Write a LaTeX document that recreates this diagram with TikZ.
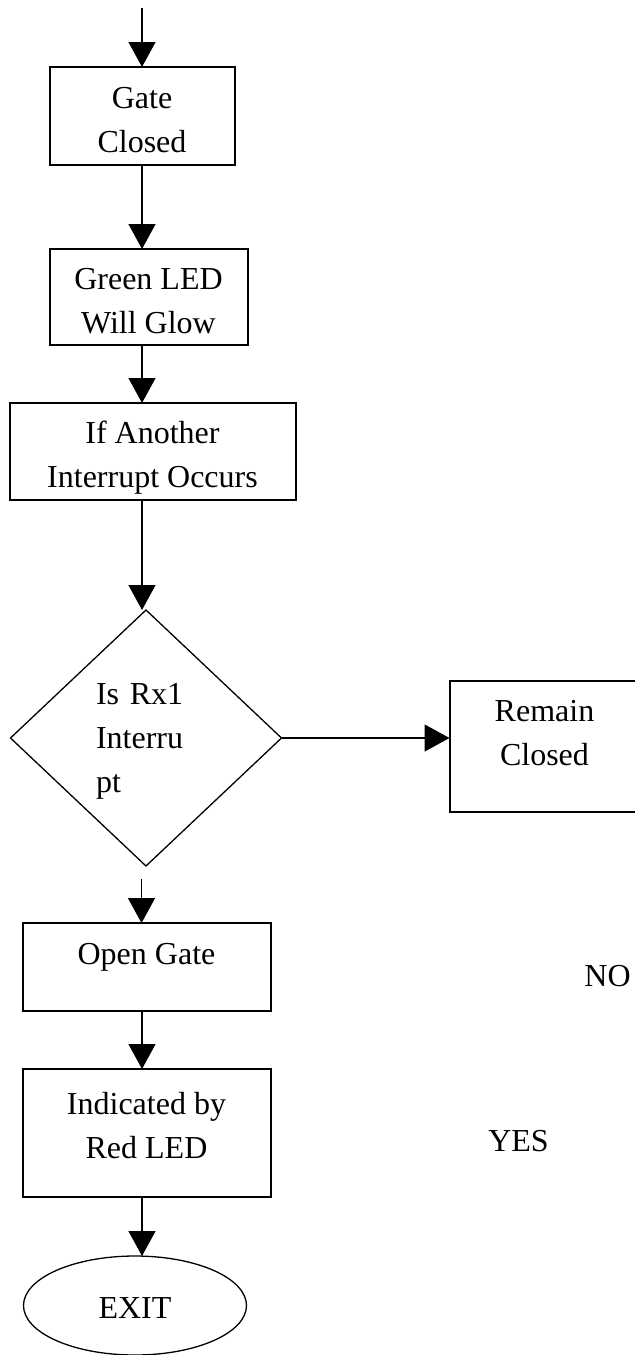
\documentclass[tikz,border=0pt]{standalone}
\usepackage{fontspec}
\setmainfont{Liberation Serif}
\usetikzlibrary{shapes.geometric, arrows.meta, positioning}
\tikzset{
  stepbox/.style={rectangle,draw=black,line width=1pt,inner sep=0pt,outer sep=0pt,align=center,font=\fontsize{16pt}{22pt}\selectfont,text depth=0pt},
  decision/.style={diamond,draw=black,line width=.65pt,inner sep=0pt,outer sep=0pt,align=left,text width=50pt,font=\fontsize{16pt}{22pt}\selectfont},
  terminal/.style={ellipse,draw=black,line width=.65pt,inner sep=0pt,outer sep=0pt,font=\fontsize{16pt}{22pt}\selectfont},
  answer/.style={inner sep=0pt,font=\fontsize{16pt}{22pt}\selectfont},
  flow/.style={line width=.65pt,black,-{Triangle[length=12.5pt,width=13.5pt]}},
}

\begin{document}
\begin{tikzpicture}
	    \useasboundingbox (0,0) rectangle (317.5pt,-677.5pt);
	    \coordinate (start) at (71pt,-4pt);
	    \node[stepbox,minimum width=92.5pt,minimum height=49pt,text height=36pt,below=29.5pt of start] (gate) {Gate\\Closed};
	    \node[stepbox,minimum width=99pt,minimum height=48pt,text height=36.3pt,below=42pt of gate,xshift=3.25pt] (green) {Green LED\\Will Glow};
	    \node[stepbox,minimum width=143pt,minimum height=48.5pt,text height=35.8pt,below=29pt of green,xshift=2pt] (ifint) {If Another\\Interrupt Occurs};
	    \node[decision,minimum width=135.5pt,minimum height=128pt,text height=11pt,text depth=45pt,below=55pt of ifint,xshift=-3.25pt] (dec) {Is Rx1\\Interru\\pt};
	    \node[stepbox,minimum width=95pt,minimum height=65.5pt,text height=18.5pt,right=84pt of dec,yshift=-4.25pt] (remain) {Remain\\Closed};
	    \coordinate[below=6.5pt of dec.south,xshift=-2.25pt] (decout);
	    \node[stepbox,minimum width=124pt,minimum height=44pt,text height=8pt,text depth=11pt,below=28.5pt of dec,xshift=.25pt] (opengate) {Open Gate};
	    \node[stepbox,minimum width=124pt,minimum height=64pt,text height=25pt,below=29pt of opengate] (indicated) {Indicated by\\Red LED};
	    \node[terminal,minimum width=111.5pt,minimum height=49.5pt,text height=12.8pt,text depth=0pt,below=29.5pt of indicated,xshift=-5.75pt] (exit) {EXIT};
	    \node[answer] (no) at (303.75pt,-488pt) {NO};
	    \node[answer] (yes) at (259.25pt,-570.5pt) {YES};
	    % connectors
	    \draw[flow] (start) -- (start |- gate.north);
	    \draw[flow] (gate.south -| start) -- (start |- green.north);
	    \draw[flow] (green.south -| start) -- (start |- ifint.north);
	    \draw[flow] (ifint.south -| start) -- (start |- dec.north);
	    \draw[flow] (dec.east) -- (dec.east -| remain.west);
	    \draw[flow] (decout) -- (decout |- opengate.north);
	    \draw[flow] (opengate.south -| start) -- (start |- indicated.north);
	    \draw[flow] (indicated.south -| start) -- (start |- exit.north);
	\end{tikzpicture}
\end{document}
